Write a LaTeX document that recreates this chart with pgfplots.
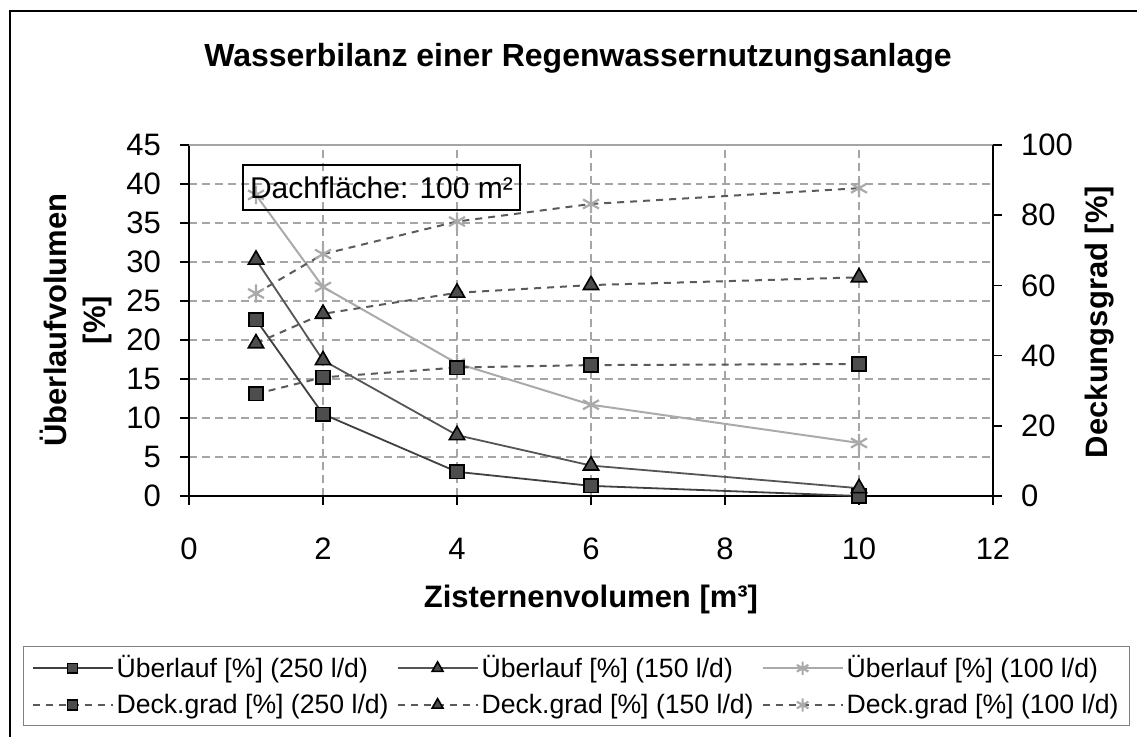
\documentclass[border=0pt]{standalone}
\usepackage{pgfplots}
\pgfplotsset{compat=1.18}
\usepackage{fontspec}
\setmainfont{Liberation Sans}
\definecolor{markc}{RGB}{77,77,77}
\definecolor{lineA}{RGB}{64,64,64}
\definecolor{lineB}{RGB}{85,85,85}
\definecolor{lgray}{RGB}{170,170,170}
\definecolor{gridc}{RGB}{165,165,165}
\definecolor{dashc}{RGB}{90,90,90}
\newcommand\tickfont{\fontsize{15.5}{18}\selectfont}
\pgfplotsset{
  s1/.style={color=lineA, line width=0.9pt, solid, mark=square*, mark size=3.4pt,
    mark options={fill=markc, draw=black, line width=0.8pt, solid}},
  s2/.style={color=lineB, line width=0.9pt, solid, mark=triangle*, mark size=4.4pt,
    mark options={fill=markc, draw=black, line width=0.8pt, solid}},
  s3/.style={color=lgray, line width=1pt, solid, mark=asterisk, mark size=4.6pt,
    mark options={draw=lgray, line width=1.1pt, solid}},
  d1/.style={color=dashc, line width=1pt, dash pattern=on 3.5pt off 3pt, mark=square*, mark size=3.4pt,
    mark options={fill=markc, draw=black, line width=0.8pt, solid}},
  d2/.style={color=dashc, line width=1pt, dash pattern=on 3.5pt off 3pt, mark=triangle*, mark size=4.4pt,
    mark options={fill=markc, draw=black, line width=0.8pt, solid}},
  d3/.style={color=dashc, line width=1pt, dash pattern=on 3.5pt off 3pt, mark=asterisk, mark size=4.6pt,
    mark options={draw=lgray, line width=1.1pt, solid}},
}
\begin{document}
\begin{tikzpicture}[x=1pt,y=1pt]
\useasboundingbox (0,0) rectangle (568.5,368);
\draw[line width=0.65pt] (5,-20) rectangle (640,362.5);
\node[font=\bfseries\fontsize{16}{19}\selectfont, anchor=base] at (289,334.5) {Wasserbilanz einer Regenwassernutzungsanlage};
\begin{axis}[
  at={(94.5pt,120pt)}, anchor=south west, scale only axis,
  width=402pt, height=175.5pt,
  xmin=0, xmax=12, ymin=0, ymax=45,
  xtick={0,2,...,12}, ytick={0,5,...,45},
  axis x line*=bottom, axis y line*=left,
  axis line style={-, black, line width=0.8pt},
  tick align=outside, major tick length=4.5pt,
  tick style={black, line width=0.8pt},
  grid=major, major grid style={gridc, line width=0.6pt, dash pattern=on 4pt off 2.5pt},
  clip=false,
  /pgf/number format/assume math mode=true,
  ticklabel style={font=\tickfont},
  xticklabel style={yshift=-13pt},
  yticklabel style={xshift=-6pt},
]
\addplot[s1] coordinates {(1,22.6) (2,10.5) (4,3.1) (6,1.3) (10,0)};
\addplot[s2] coordinates {(1,30.3) (2,17.4) (4,7.8) (6,3.9) (10,1.0)};
\addplot[s3] coordinates {(1,38.6) (2,26.8) (4,17.0) (6,11.7) (10,6.8)};
\draw[gridc, line width=1pt] (rel axis cs:0,1) -- (rel axis cs:1,1);
\end{axis}
\begin{axis}[
  at={(94.5pt,120pt)}, anchor=south west, scale only axis,
  width=402pt, height=175.5pt,
  xmin=0, xmax=12, ymin=0, ymax=100, ytick={0,20,...,100}, xtick=\empty,
  axis y line*=right, axis x line=none,
  axis line style={-, black, line width=0.8pt},
  tick align=outside, major tick length=4.5pt,
  tick style={black, line width=0.8pt},
  clip=false,
  /pgf/number format/assume math mode=true,
  ticklabel style={font=\tickfont},
  yticklabel style={xshift=6pt},
  legend columns=3, legend cell align=left,
  legend style={at={(axis description cs:-0.2065,-0.4274)}, anchor=north west,
    draw=gray, line width=0.6pt, font=\fontsize{13.3}{15}\selectfont,
    inner xsep=4pt, inner ysep=3.5pt, row sep=4.5pt,
    /tikz/every even column/.append style={column sep=2.5pt},
    nodes={inner xsep=1.5pt, inner ysep=1pt}},
  legend image code/.code={\draw[mark repeat=2,mark phase=2,#1] plot coordinates {(0pt,0pt) (20pt,0pt) (40pt,0pt)};},
  legend image post style={every mark/.append style={scale=0.72}},
]
\addlegendimage{s1}
\addlegendentry{Überlauf [\%] (250 l/d)}
\addlegendimage{s2}
\addlegendentry{Überlauf [\%] (150 l/d)}
\addlegendimage{s3}
\addlegendentry{Überlauf [\%] (100 l/d)}
\addplot[d1] coordinates {(1,29.1) (2,33.8) (4,36.6) (6,37.3) (10,37.6)};
\addlegendentry{Deck.grad [\%] (250 l/d)}
\addplot[d2] coordinates {(1,43.5) (2,51.9) (4,57.9) (6,60.1) (10,62.3)};
\addlegendentry{Deck.grad [\%] (150 l/d)}
\addplot[d3] coordinates {(1,57.7) (2,68.9) (4,78.2) (6,83.2) (10,87.7)};
\addlegendentry{Deck.grad [\%] (100 l/d)}
\end{axis}
\node[rotate=90, align=center, font=\bfseries\fontsize{15.5}{19.5}\selectfont] at (38,208) {Überlaufvolumen\\{}[\%]};
\node[rotate=90, font=\bfseries\fontsize{15.5}{18}\selectfont] at (550,207) {Deckungsgrad [\%]};
\node[font=\bfseries\fontsize{15.5}{18}\selectfont, anchor=base] at (295.5,64.5) {Zisternenvolumen [m³]};
\node[draw, line width=0.7pt, minimum width=138.5pt, minimum height=22.5pt, inner sep=0pt, font=\fontsize{15}{18}\selectfont] at (190.75,274.25) {Dachfläche: 100 m²};
\end{tikzpicture}
\end{document}
